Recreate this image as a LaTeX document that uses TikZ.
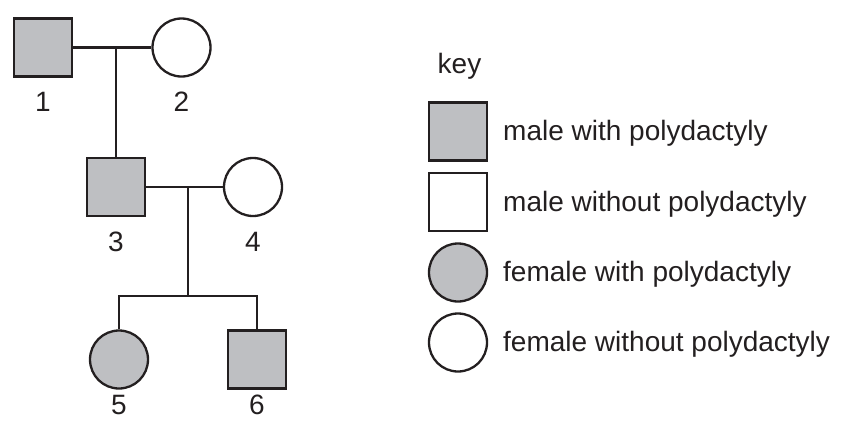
\documentclass[tikz,border=0pt]{standalone}
\usepackage{fontspec}
\setmainfont{Liberation Sans}
\usetikzlibrary{calc}
\definecolor{affected}{RGB}{190,191,194}
\definecolor{ink}{RGB}{35,31,32}
\tikzstyle{male} = [draw=ink, line width=2.3pt, rectangle, minimum size=58pt, inner sep=0pt]
\tikzstyle{female} = [draw=ink, line width=2.3pt, circle, minimum size=58pt, inner sep=0pt]
\tikzstyle{line} = [draw=ink, line width=2.3pt]
\tikzstyle{txt} = [font=\fontsize{28}{34}\selectfont, text=ink, inner sep=0pt]
\tikzstyle{keytxt} = [txt, anchor=west, text height=21pt, text depth=3pt]

\begin{document}
\begin{tikzpicture}[x=1pt,y=-1pt]

\useasboundingbox (0,0) rectangle (849,424);

% pedigree
\node[male,fill=affected] (p1) at (43,47.5) {};
\node[female] (p2) at (181.5,47.5) {};
\node[male,fill=affected] (p3) at (116,187) {};
\node[female] (p4) at (253,187) {};
\node[female,fill=affected] (p5) at (119,359.5) {};
\node[male,fill=affected] (p6) at (257,359.5) {};

\node[txt] (n1) at (43,102) {1};
\node[txt] (n2) at (181.5,102) {2};
\node[txt] (n3) at (116,241.5) {3};
\node[txt] (n4) at (253,241.5) {4};
\node[txt] (n5) at (119,405) {5};
\node[txt] (n6) at (257,405) {6};

% couples and children
\draw[line] (p1.east) -- (p2.west);
\coordinate (m12) at (p3 |- p1);
\draw[line] (m12) -- (p3.north);

\draw[line] (p3.east) -- (p4.west);
\coordinate (m34) at (188,187);
\coordinate (sib) at (188,296);
\draw[line] (m34) -- (sib);
\coordinate (s5) at (p5 |- sib);
\coordinate (s6) at (p6 |- sib);
\draw[line] (p5.north) -- (s5) -- (s6) -- (p6.north);

% key
\node[txt,anchor=base] (key) at (459.5,73) {key};
\node[male,fill=affected] (k1) at (458,131.5) {};
\node[male] (k2) at (458,202) {};
\node[female,fill=affected] (k3) at (458,272.5) {};
\node[female] (k4) at (458,342.5) {};

\node[keytxt] (t1) at (503,131.5) {male with polydactyly};
\node[keytxt] (t2) at (503,202) {male without polydactyly};
\node[keytxt] (t3) at (503,272.5) {female with polydactyly};
\node[keytxt] (t4) at (503,342.5) {female without polydactyly};

\end{tikzpicture}
\end{document}
